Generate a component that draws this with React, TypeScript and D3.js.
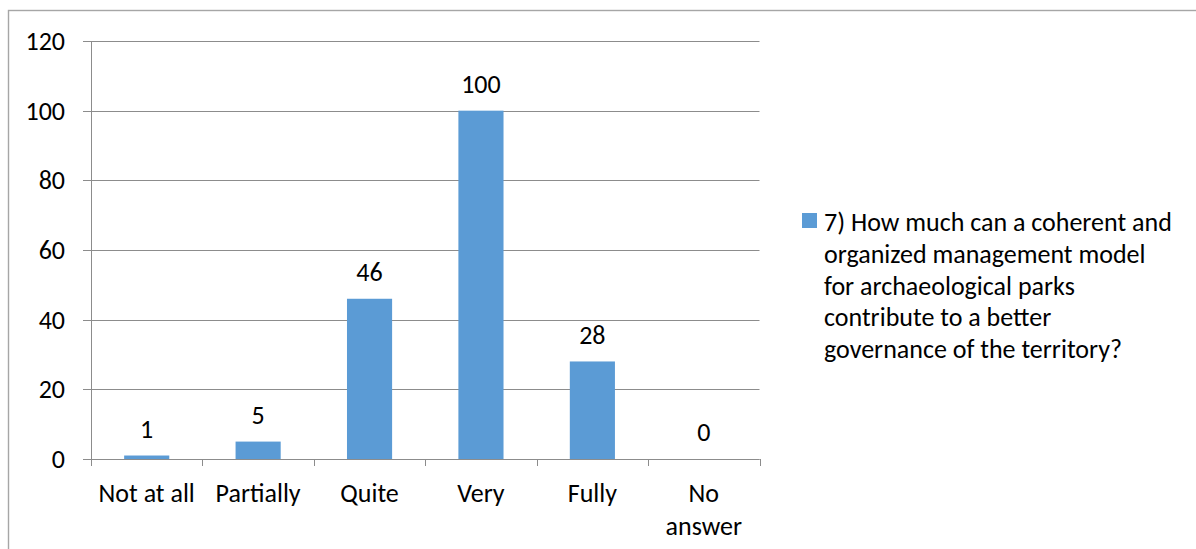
import React from "react";
import * as d3 from "d3";

const categories = ["Not at all", "Partially", "Quite", "Very", "Fully", "No answer"];
const values = [1, 5, 46, 100, 28, 0];
const yTicks = [0, 20, 40, 60, 80, 100, 120];
const legendLines = [
  "7) How much can a coherent and",
  "organized management model",
  "for archaeological parks",
  "contribute to a better",
  "governance of the territory?",
];
const xLabelLines: Record<string, string[]> = { "No answer": ["No", "answer"] };

const W = 1196;
const H = 549;
const FONT = "Carlito, Calibri, 'Open Sans', sans-serif";
const BAR = "#5B9BD5";
const GRID = "#8C8C8C";

export default function App() {
  const left = 91, right = 759.5, top = 41, bottom = 459;
  const y = d3.scaleLinear().domain([0, 120]).range([bottom, top]);
  const x = d3.scaleBand<string>().domain(categories).range([left, right]).padding(0);
  const bw = x.bandwidth() * 0.405;
  const fs = 26;

  return (
    <svg width={W} height={H} style={{ position: "absolute", left: 0, top: 0, background: "#fff" }}>
      <rect x={8.5} y={10.5} width={1300} height={700} fill="none" stroke="#A6A6A6" strokeWidth={1.4} />
      {yTicks.map((t) => (
        <g key={t}>
          <line x1={left - 8} x2={right} y1={Math.round(y(t)) + 0.5} y2={Math.round(y(t)) + 0.5} stroke={GRID} strokeWidth={1} />
          <text x={65} y={y(t)} dy="0.35em" textAnchor="end" fontFamily={FONT} fontSize={fs} fill="#000">
            {t}
          </text>
        </g>
      ))}
      {categories.map((c, i) => {
        const cx = (x(c) as number) + x.bandwidth() / 2;
        const v = values[i];
        return (
          <g key={c}>
            <rect x={cx - bw / 2} y={y(v)} width={bw} height={bottom - y(v)} fill={BAR} />
            <text x={cx} y={y(v) - 27} dy="0.35em" textAnchor="middle" fontFamily={FONT} fontSize={fs} fill="#000">
              {v}
            </text>
            {(xLabelLines[c] || [c]).map((ln, j) => (
              <text key={j} x={cx} y={493 + j * 33} dy="0.35em" textAnchor="middle" fontFamily={FONT} fontSize={fs} fill="#000">
                {ln}
              </text>
            ))}
          </g>
        );
      })}
      {d3.range(categories.length + 1).map((i) => {
        const xx = Math.round(left + i * x.step()) + 0.5;
        return <line key={i} x1={xx} x2={xx} y1={bottom} y2={bottom + 7} stroke={GRID} strokeWidth={1} />;
      })}
      <line x1={left + 0.5} x2={left + 0.5} y1={top} y2={bottom} stroke={GRID} strokeWidth={1} />
      <line x1={left} x2={right} y1={bottom + 0.5} y2={bottom + 0.5} stroke={GRID} strokeWidth={1} />
      <rect x={802} y={213} width={15} height={15} fill={BAR} />
      {legendLines.map((ln, i) => (
        <text key={i} x={824} y={222 + i * 31.7} dy="0.35em" fontFamily={FONT} fontSize={fs} fill="#000">
          {ln}
        </text>
      ))}
    </svg>
  );
}
